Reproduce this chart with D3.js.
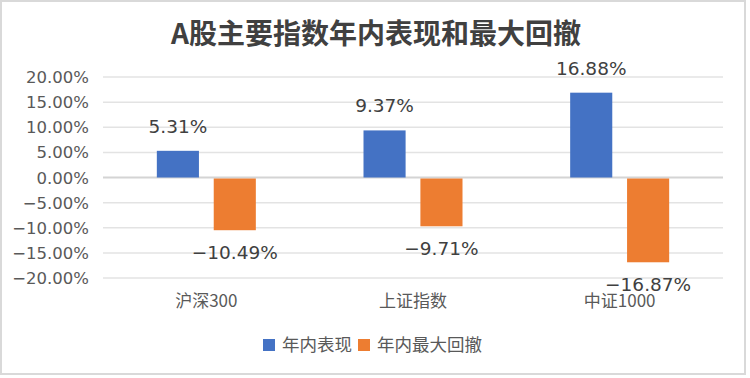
<!DOCTYPE html>
<html>
<head>
<meta charset="utf-8">
<script src="https://cdn.jsdelivr.net/npm/d3@7"></script>
<style>
  body { margin: 0; background: #fff; }
  text { font-family: "DejaVu Sans", "Noto Sans CJK SC", sans-serif; }
  .cjk { font-family: "Noto Sans CJK SC", sans-serif; }
</style>
</head>
<body>
<div id="chart"></div>
<script>
const categories = ['沪深300', '上证指数', '中证1000']
const seriesNames = ['年内表现', '年内最大回撤']
const perf = [5.31, 9.37, 16.88]
const drawdown = [-10.49, -9.71, -16.87]
const yTicks = [20, 15, 10, 5, 0, -5, -10, -15, -20]
const colors = ['#4472c4', '#ed7d31']

const W = 750, H = 378
const MARGIN = { TOP: 77, BOTTOM: 98, LEFT: 103, RIGHT: 27 }

// excel style percent with a real minus sign
const pct = v => (v < 0 ? '\u2212' : '') + Math.abs(v).toFixed(2) + '%'

const svg = d3.select('#chart').append('svg')
    .attr('width', W)
    .attr('height', H)

// outer frame
svg.append('rect')
    .attr('x', 1).attr('y', 1)
    .attr('width', 744).attr('height', 373)
    .attr('fill', '#fff')
    .attr('stroke', '#d9d9d9')
    .attr('stroke-width', 2)

svg.append('text')
    .attr('class', 'cjk')
    .attr('x', 376)
    .attr('y', 44)
    .attr('text-anchor', 'middle')
    .attr('font-size', 28)
    .attr('font-weight', 'bold')
    .attr('fill', '#404040')
    .text('A股主要指数年内表现和最大回撤')

const y = d3.scaleLinear()
    .domain([-20, 20])
    .range([H - MARGIN.BOTTOM - 2, MARGIN.TOP])

const x0 = d3.scaleBand()
    .domain(categories)
    .range([MARGIN.LEFT, W - MARGIN.RIGHT])
    .paddingInner(0)
    .paddingOuter(0)

const x1 = d3.scaleBand()
    .domain(seriesNames)
    .range([0, 99])
    .paddingInner(0.26)

const g = svg.append('g')

// gridlines
g.selectAll('line.grid')
    .data(yTicks)
    .enter().append('line')
    .attr('class', 'grid')
    .attr('x1', MARGIN.LEFT)
    .attr('x2', W - MARGIN.RIGHT)
    .attr('y1', d => y(d))
    .attr('y2', d => y(d))
    .attr('stroke', d => d === 0 ? '#d4d4d4' : '#e3e3e3')
    .attr('stroke-width', d => d === 0 ? 2 : 1.5)

// y axis labels
g.selectAll('text.ytick')
    .data(yTicks)
    .enter().append('text')
    .attr('class', 'ytick')
    .attr('x', 89)
    .attr('y', d => y(d) + 6)
    .attr('text-anchor', 'end')
    .attr('font-size', 16.5)
    .attr('fill', '#595959')
    .text(d => pct(d))

const rows = categories.map((c, i) => ({ cat: c, vals: [perf[i], drawdown[i]] }))

const groups = g.selectAll('g.cat')
    .data(rows)
    .enter().append('g')
    .attr('class', 'cat')
    .attr('transform', d => `translate(${ x0(d.cat) + x0.bandwidth() / 2 - 49.5 }, 0)`)

groups.selectAll('rect')
    .data(d => d.vals.map((v, j) => ({ name: seriesNames[j], v: v, j: j })))
    .enter().append('rect')
    .attr('x', d => x1(d.name))
    .attr('width', x1.bandwidth())
    .attr('y', d => y(Math.max(0, d.v)) + (d.v < 0 ? 1 : 0))
    .attr('height', d => Math.abs(y(d.v) - y(0)) - (d.v < 0 ? 1 : 0))
    .attr('fill', d => colors[d.j])

groups.selectAll('text.lbl')
    .data(d => d.vals.map((v, j) => ({ name: seriesNames[j], v: v, j: j })))
    .enter().append('text')
    .attr('class', 'lbl')
    .attr('x', d => x1(d.name) + x1.bandwidth() / 2)
    .attr('y', d => d.v >= 0 ? y(d.v) - 18 : y(d.v) + 29)
    .attr('text-anchor', 'middle')
    .attr('font-size', 18.5)
    .attr('fill', '#404040')
    .text(d => pct(d.v))

// category labels
g.selectAll('text.xcat')
    .data(categories)
    .enter().append('text')
    .attr('class', 'xcat cjk')
    .attr('x', d => x0(d) + x0.bandwidth() / 2)
    .attr('y', 307)
    .attr('text-anchor', 'middle')
    .attr('font-size', 17)
    .attr('fill', '#595959')
    .text(d => d)

// legend
const legend = svg.append('g')
const legX = [263, 358]
seriesNames.forEach((s, i) => {
    legend.append('rect')
        .attr('x', legX[i]).attr('y', 339)
        .attr('width', 12).attr('height', 12)
        .attr('fill', colors[i])
    legend.append('text')
        .attr('class', 'cjk')
        .attr('x', legX[i] + 19)
        .attr('y', 351)
        .attr('font-size', 17.5)
        .attr('fill', '#595959')
        .text(s)
})
</script>
</body>
</html>
